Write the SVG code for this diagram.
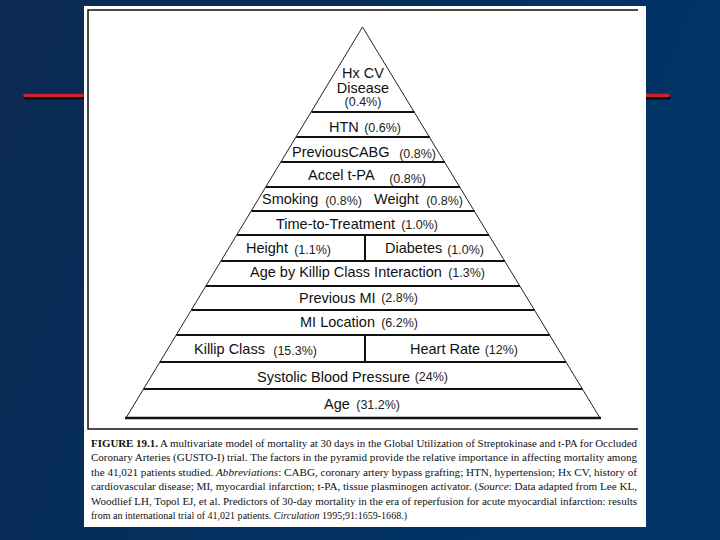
<svg xmlns="http://www.w3.org/2000/svg" width="720" height="540" viewBox="0 0 720 540">
<defs>
<linearGradient id="bg" x1="0" y1="0" x2="1" y2="0.3">
<stop offset="0" stop-color="#0b2a52"/>
<stop offset="1" stop-color="#003468"/>
</linearGradient>
</defs>
<style>
.lbl{font-family:"Liberation Sans",Arial,sans-serif;font-size:14.5px;fill:#111}
.pct{font-family:"Liberation Sans",Arial,sans-serif;font-size:12.5px;fill:#222}
.sep{stroke:#111;stroke-width:2;fill:none}
.side{stroke:#222;stroke-width:1;fill:none}
.cap{font-family:"Liberation Serif","Times New Roman",serif;font-size:10px;fill:#111}
.b{font-weight:bold}
.i{font-style:italic}
</style>
<rect x="0" y="0" width="720" height="540" fill="url(#bg)"/>
<g id="accent-line">
<line x1="26" y1="97.8" x2="669" y2="97.8" stroke="#000" stroke-width="3" stroke-linecap="round"/>
<line x1="25" y1="95.5" x2="668" y2="95.5" stroke="#d11f2f" stroke-width="3.5" stroke-linecap="round"/>
</g>
<rect id="panel" x="84" y="6" width="562" height="521" fill="#fff"/>
<g id="frame" stroke="#111" stroke-width="1.5" fill="none">
<polyline points="638,10 88,10 88,429 638,429"/>
</g>
<g id="connectors">
<path class="side" d="M126,418 L362.5,27 L600,418"/>
<line class="sep" x1="311.5" y1="112" x2="414.5" y2="112"/>
<line class="sep" x1="296.3" y1="137" x2="429.7" y2="137"/>
<line class="sep" x1="281.2" y1="162" x2="444.8" y2="162"/>
<line class="sep" x1="266" y1="187" x2="460" y2="187"/>
<line class="sep" x1="251.5" y1="211" x2="474.5" y2="211"/>
<line class="sep" x1="236.9" y1="235" x2="489.1" y2="235"/>
<line class="sep" x1="221.2" y1="261" x2="504.8" y2="261"/>
<line class="sep" x1="206" y1="286" x2="520" y2="286"/>
<line class="sep" x1="191.5" y1="310" x2="534.5" y2="310"/>
<line class="sep" x1="176.3" y1="335" x2="549.7" y2="335"/>
<line class="sep" x1="160" y1="362" x2="566" y2="362"/>
<line class="sep" x1="143.6" y1="389" x2="582.4" y2="389"/>
<line x1="125" y1="418" x2="601" y2="418" stroke="#111" stroke-width="2.5"/>
<line class="sep" x1="365" y1="235" x2="365" y2="261"/>
<line class="sep" x1="365" y1="335" x2="365" y2="362"/>
</g>
<g id="hx-cv">
<text class="lbl" x="363" y="78" text-anchor="middle">Hx CV</text>
<text class="lbl" x="363" y="93" text-anchor="middle">Disease</text>
<text class="pct" x="363" y="106" text-anchor="middle">(0.4%)</text>
</g>
<g id="htn">
<text class="lbl" x="329" y="132">HTN</text>
<text class="pct" x="401" y="132" text-anchor="end">(0.6%)</text>
</g>
<g id="previous-cabg">
<text class="lbl" x="292" y="157">PreviousCABG</text>
<text class="pct" x="436" y="158" text-anchor="end">(0.8%)</text>
</g>
<g id="accel-tpa">
<text class="lbl" x="308" y="180">Accel t-PA</text>
<text class="pct" x="426" y="183" text-anchor="end">(0.8%)</text>
</g>
<g id="smoking">
<text class="lbl" x="262" y="204">Smoking</text>
<text class="pct" x="362" y="205" text-anchor="end">(0.8%)</text>
</g>
<g id="weight">
<text class="lbl" x="374" y="204">Weight</text>
<text class="pct" x="463" y="205" text-anchor="end">(0.8%)</text>
</g>
<g id="time-to-treatment">
<text class="lbl" x="276" y="229">Time-to-Treatment</text>
<text class="pct" x="438" y="229" text-anchor="end">(1.0%)</text>
</g>
<g id="height">
<text class="lbl" x="246" y="253">Height</text>
<text class="pct" x="331" y="254" text-anchor="end">(1.1%)</text>
</g>
<g id="diabetes">
<text class="lbl" x="385" y="253">Diabetes</text>
<text class="pct" x="484" y="254" text-anchor="end">(1.0%)</text>
</g>
<g id="age-killip">
<text class="lbl" x="250" y="277">Age by Killip Class Interaction</text>
<text class="pct" x="485" y="277" text-anchor="end">(1.3%)</text>
</g>
<g id="previous-mi">
<text class="lbl" x="299" y="303">Previous MI</text>
<text class="pct" x="418" y="302" text-anchor="end">(2.8%)</text>
</g>
<g id="mi-location">
<text class="lbl" x="300" y="327">MI Location</text>
<text class="pct" x="418" y="327" text-anchor="end">(6.2%)</text>
</g>
<g id="killip-class">
<text class="lbl" x="194" y="354">Killip Class</text>
<text class="pct" x="317" y="355" text-anchor="end">(15.3%)</text>
</g>
<g id="heart-rate">
<text class="lbl" x="410" y="354">Heart Rate</text>
<text class="pct" x="518" y="354" text-anchor="end">(12%)</text>
</g>
<g id="systolic-bp">
<text class="lbl" x="257" y="382">Systolic Blood Pressure</text>
<text class="pct" x="448" y="381" text-anchor="end">(24%)</text>
</g>
<g id="age">
<text class="lbl" x="324" y="409">Age</text>
<text class="pct" x="400" y="409" text-anchor="end">(31.2%)</text>
</g>
<g id="caption">
<text class="cap" x="91" y="447" textLength="546" lengthAdjust="spacingAndGlyphs"><tspan class="b">FIGURE 19.1.</tspan> A multivariate model of mortality at 30 days in the Global Utilization of Streptokinase and t-PA for Occluded</text>
<text class="cap" x="91" y="461.4" textLength="546" lengthAdjust="spacingAndGlyphs">Coronary Arteries (GUSTO-I) trial. The factors in the pyramid provide the relative importance in affecting mortality among</text>
<text class="cap" x="91" y="475.8" textLength="546" lengthAdjust="spacingAndGlyphs">the 41,021 patients studied. <tspan class="i">Abbreviations</tspan>: CABG, coronary artery bypass grafting; HTN, hypertension; Hx CV, history of</text>
<text class="cap" x="91" y="490.2" textLength="546" lengthAdjust="spacingAndGlyphs">cardiovascular disease; MI, myocardial infarction; t-PA, tissue plasminogen activator. (<tspan class="i">Source</tspan>: Data adapted from Lee KL,</text>
<text class="cap" x="91" y="504.6" textLength="546" lengthAdjust="spacingAndGlyphs">Woodlief LH, Topol EJ, et al. Predictors of 30-day mortality in the era of reperfusion for acute myocardial infarction: results</text>
<text class="cap" x="91" y="519" textLength="316" lengthAdjust="spacingAndGlyphs">from an international trial of 41,021 patients. <tspan class="i">Circulation</tspan> 1995;91:1659-1668.)</text>
</g>
</svg>
